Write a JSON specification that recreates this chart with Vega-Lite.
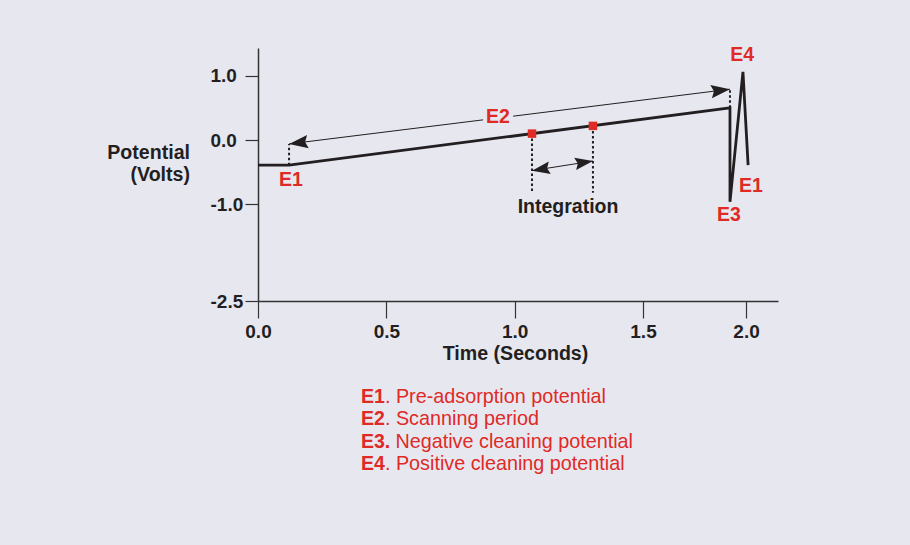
{
  "$schema": "https://vega.github.io/schema/vega-lite/v6.json",
  "width": 520,
  "height": 253,
  "autosize": {"type": "none"},
  "padding": {"left": 258, "top": 48, "right": 132, "bottom": 244},
  "background": "#e7e7f0",
  "config": {"view": {"stroke": null}, "font": "Liberation Sans"},
  "datasets": {
    "line": [
      {"i": 1, "t": 0, "v": -0.39},
      {"i": 2, "t": 0.121, "v": -0.39},
      {"i": 3, "t": 1.922, "v": 0.5},
      {"i": 4, "t": 1.922, "v": -0.96},
      {"i": 5, "t": 1.985, "v": 1.06},
      {"i": 6, "t": 2.01, "v": -0.39}
    ],
    "dots": [
      {"t": 0.121, "v": -0.39, "t2": 0.121, "v2": -0.06},
      {"t": 1.922, "v": 0.5, "t2": 1.922, "v2": 0.79},
      {"t": 1.0675, "v": 0.1, "t2": 1.0675, "v2": -0.82},
      {"t": 1.305, "v": 0.22, "t2": 1.305, "v2": -0.82}
    ],
    "shafts": [
      {"t": 0.121, "v": -0.06, "t2": 0.877, "v2": 0.314},
      {"t": 0.994, "v": 0.371, "t2": 1.922, "v2": 0.79},
      {"t": 1.0675, "v": -0.475, "t2": 1.305, "v2": -0.326}
    ],
    "heads": [
      {"arrow": "E2", "end": "left", "t": 0.121, "v": -0.06},
      {"arrow": "E2", "end": "right", "t": 1.922, "v": 0.79},
      {"arrow": "int", "end": "left", "t": 1.0675, "v": -0.475},
      {"arrow": "int", "end": "right", "t": 1.305, "v": -0.326}
    ],
    "squares": [
      {"t": 1.0675, "v": 0.1},
      {"t": 1.305, "v": 0.22}
    ],
    "redlabels": [
      {"t": 0.1286, "v": -0.621, "text": "E1"},
      {"t": 0.935, "v": 0.357, "text": "E2"},
      {"t": 1.981, "v": 1.32, "text": "E4"},
      {"t": 2.024, "v": -0.714, "text": "E1"},
      {"t": 1.917, "v": -1.165, "text": "E3"}
    ],
    "blacklabels": [
      {"t": 1.208, "v": -1.04, "text": "Integration"}
    ],
    "legend": [
      {"row": 1, "t": 0.401, "v": -3.986, "key": "E1", "desc": ". Pre-adsorption potential"},
      {"row": 2, "t": 0.401, "v": -4.337, "key": "E2", "desc": ". Scanning period"},
      {"row": 3, "t": 0.401, "v": -4.689, "key": "E3.", "desc": "Negative cleaning potential"},
      {"row": 4, "t": 0.401, "v": -5.036, "key": "E4", "desc": ". Positive cleaning potential"}
    ]
  },
  "encoding": {
    "x": {
      "field": "t",
      "type": "quantitative",
      "scale": {"domain": [0, 1.5, 2.155], "range": [0, 385, 520], "nice": false, "zero": false},
      "axis": {
        "values": [0, 0.5, 1, 1.5, 2],
        "labelExpr": "format(datum.value, '.1f')",
        "title": "Time (Seconds)",
        "titleX": 257,
        "titleY": 58,
        "titleAlign": "center",
        "titleBaseline": "alphabetic",
        "titleFontSize": 19.6,
        "titleFontWeight": "bold",
        "titleColor": "#231f20",
        "labelFontSize": 19,
        "labelFontWeight": "bold",
        "labelColor": "#231f20",
        "labelBaseline": "alphabetic",
        "labelPadding": 19.5,
        "labelFlush": false,
        "labelOverlap": false,
        "tickSize": 17,
        "tickColor": "#333333",
        "tickWidth": 1.2,
        "domainColor": "#333333",
        "domainWidth": 1.5,
        "grid": false
      }
    },
    "y": {
      "field": "v",
      "type": "quantitative",
      "scale": {"domain": [-2.5, 1.43], "nice": false, "zero": false},
      "axis": {
        "values": [1, 0, -1, -2.5],
        "labelExpr": "datum.value < 0 ? '-' + format(abs(datum.value), '.1f') : format(datum.value, '.1f')",
        "title": ["Potential", "(Volts)"],
        "titleAngle": 0,
        "titleAlign": "right",
        "titleBaseline": "alphabetic",
        "titleX": -68.5,
        "titleY": 110.3,
        "titleLineHeight": 22,
        "titleFontSize": 19.6,
        "titleFontWeight": "bold",
        "titleColor": "#231f20",
        "labelFontSize": 19,
        "labelFontWeight": "bold",
        "labelColor": "#231f20",
        "labelAlign": "left",
        "labelBaseline": "middle",
        "labelPadding": 35,
        "labelOverlap": false,
        "tickSize": 13,
        "tickColor": "#333333",
        "tickWidth": 1.2,
        "domainColor": "#333333",
        "domainWidth": 1.5,
        "grid": false
      }
    }
  },
  "layer": [
    {
      "data": {"name": "dots"},
      "mark": {"type": "rule", "color": "#231f20", "strokeWidth": 2, "strokeDash": [2.5, 2.5]},
      "encoding": {"x2": {"field": "t2"}, "y2": {"field": "v2"}}
    },
    {
      "data": {"name": "line"},
      "mark": {"type": "line", "color": "#231f20", "strokeWidth": 2.8, "strokeJoin": "miter"},
      "encoding": {"order": {"field": "i", "type": "quantitative"}}
    },
    {
      "data": {"name": "shafts"},
      "mark": {"type": "rule", "color": "#231f20", "strokeWidth": 1},
      "encoding": {"x2": {"field": "t2"}, "y2": {"field": "v2"}}
    },
    {
      "data": {"name": "heads"},
      "transform": [{"filter": "datum.arrow === 'E2' && datum.end === 'right'"}],
      "mark": {"type": "point", "shape": "M0,0 L-2,-0.7 L-1.7,0 L-2,0.7 Z", "size": 361, "filled": true, "opacity": 1, "color": "#231f20", "strokeWidth": 0, "angle": -7.1}
    },
    {
      "data": {"name": "heads"},
      "transform": [{"filter": "datum.arrow === 'E2' && datum.end === 'left'"}],
      "mark": {"type": "point", "shape": "M0,0 L-2,-0.7 L-1.7,0 L-2,0.7 Z", "size": 361, "filled": true, "opacity": 1, "color": "#231f20", "strokeWidth": 0, "angle": 172.9}
    },
    {
      "data": {"name": "heads"},
      "transform": [{"filter": "datum.arrow === 'int' && datum.end === 'right'"}],
      "mark": {"type": "point", "shape": "M0,0 L-2,-0.7 L-1.7,0 L-2,0.7 Z", "size": 324, "filled": true, "opacity": 1, "color": "#231f20", "strokeWidth": 0, "angle": -9}
    },
    {
      "data": {"name": "heads"},
      "transform": [{"filter": "datum.arrow === 'int' && datum.end === 'left'"}],
      "mark": {"type": "point", "shape": "M0,0 L-2,-0.7 L-1.7,0 L-2,0.7 Z", "size": 324, "filled": true, "opacity": 1, "color": "#231f20", "strokeWidth": 0, "angle": 171}
    },
    {
      "data": {"name": "squares"},
      "mark": {"type": "point", "shape": "square", "size": 72, "filled": true, "opacity": 1, "color": "#df2a26", "strokeWidth": 0}
    },
    {
      "data": {"name": "redlabels"},
      "mark": {"type": "text", "color": "#df2a26", "fontSize": 19.5, "fontWeight": "bold", "align": "center", "baseline": "middle"},
      "encoding": {"text": {"field": "text"}}
    },
    {
      "data": {"name": "blacklabels"},
      "mark": {"type": "text", "color": "#231f20", "fontSize": 19.5, "fontWeight": "bold", "align": "center", "baseline": "middle"},
      "encoding": {"text": {"field": "text"}}
    },
    {
      "data": {"name": "legend"},
      "mark": {"type": "text", "color": "#df2a26", "fontSize": 19.5, "fontWeight": "bold", "align": "left", "baseline": "middle"},
      "encoding": {"text": {"field": "key"}}
    },
    {
      "data": {"name": "legend"},
      "transform": [{"filter": "datum.row !== 3"}],
      "mark": {"type": "text", "color": "#df2a26", "fontSize": 19.8, "fontWeight": "normal", "align": "left", "baseline": "middle", "dx": 24},
      "encoding": {"text": {"field": "desc"}}
    },
    {
      "data": {"name": "legend"},
      "transform": [{"filter": "datum.row === 3"}],
      "mark": {"type": "text", "color": "#df2a26", "fontSize": 19.8, "fontWeight": "normal", "align": "left", "baseline": "middle", "dx": 34.5},
      "encoding": {"text": {"field": "desc"}}
    }
  ]
}
